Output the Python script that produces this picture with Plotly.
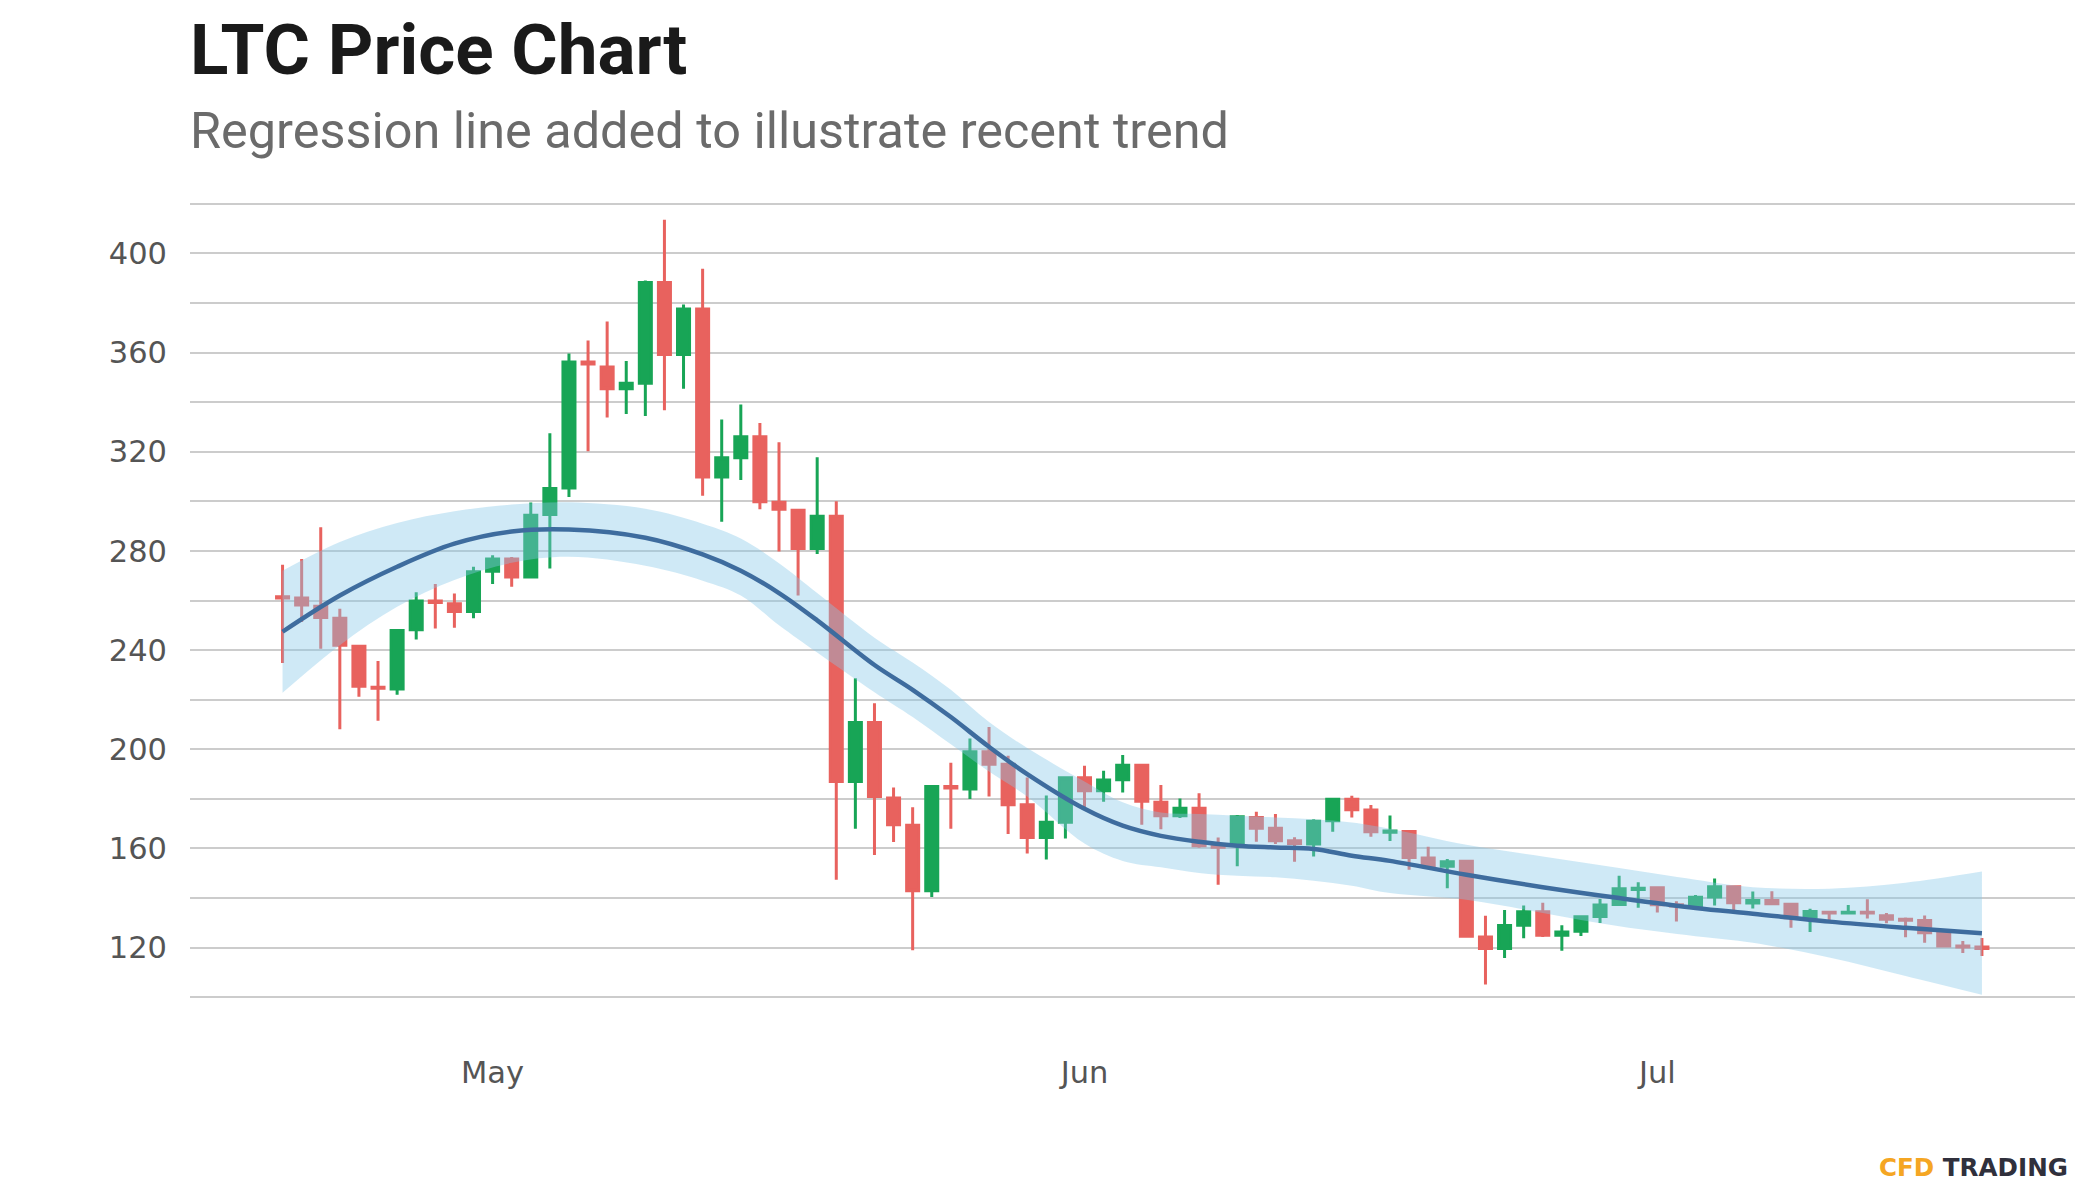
import pandas as pd
import plotly.graph_objects as go

# ---- Candle data (LTC daily, 2021-04-20 .. 2021-07-18) ----
dates = pd.date_range("2021-04-20", "2021-07-18", freq="D")

opens = [261.5, 261, 257.7, 252.8, 241.6, 225, 224.3, 248.2, 259.8, 258.7, 255.6,
         271.8, 276.7, 269.5, 294.7, 305.4, 356.2, 354.2, 345.4, 347.6, 388.2,
         359.2, 377.6, 309.8, 317.6, 326, 299.6, 296.4, 281, 294, 187,
         210.8, 180.4, 169.4, 143, 185, 184, 199, 194, 177.6, 164.4, 170.6,
         188.5, 183.3, 187.7, 193.6, 178.6, 173.2, 176.2, 161, 161.8, 172.5,
         168.2, 163.1, 161.8, 171.2, 179.9, 175.5, 166.5, 166.8, 156.2, 152.8,
         154.8, 124.3, 119.7, 129, 134.5, 125, 126.6, 132.6, 137.4, 143.5,
         144.2, 137.3, 137, 140.4, 144.6, 138, 139, 137.5, 132.3, 134.3,
         134, 134.3, 132.9, 131.5, 131, 125.8, 120.7, 120.3]
highs = [274.4, 276.7, 289.5, 256.7, 241.8, 235.6, 248.5, 263.3, 266.7, 262.8, 273.6,
         278.2, 277.5, 299.5, 327.4, 359.6, 364.8, 372.5, 356.6, 389, 413.5,
         379.4, 393.8, 333, 339, 331.6, 323.8, 296.6, 317.8, 300, 228.6,
         218.6, 184.6, 176.6, 185.4, 194.6, 204.4, 209, 197.4, 188.6, 181.4, 188.7,
         193.4, 191.3, 197.7, 193.9, 185.6, 180.2, 182.3, 164.4, 173.5, 174.8,
         173.9, 164.5, 171.8, 180.3, 181.3, 177.5, 173.3, 167.1, 160.7, 155.8,
         155.3, 132.9, 135.2, 137, 138.1, 129, 132.5, 139.6, 149, 146.4,
         144.4, 138.7, 141.2, 147.9, 145.1, 142.7, 142.8, 137.9, 135.7, 134.4,
         137.2, 139.5, 134, 132.2, 133, 125.9, 122.7, 123.9]
lows = [234.8, 251.3, 240.5, 208.1, 221.2, 211.5, 222, 244.3, 248.7, 249, 252.8,
        266.7, 265.5, 269, 272.9, 301.7, 320.2, 333.8, 335.2, 334.4, 336.7,
        345.4, 302.2, 291.8, 308.6, 296.8, 279.8, 262, 278.8, 147.4, 168,
        157.4, 162.6, 119, 140.4, 168, 180, 181, 165.8, 158, 155.6, 164,
        176.2, 178.8, 182.6, 169.6, 167.8, 172.3, 160.3, 145.4, 152.8, 162.7,
        161.8, 154.6, 156.8, 166.7, 172.5, 164.7, 163, 151.4, 152.5, 144,
        124.2, 105.1, 115.8, 123.8, 124.3, 118.8, 124.7, 129.9, 137.2, 136.1,
        134.2, 130.6, 136.8, 137, 135, 135.8, 137.2, 128, 126.3, 131,
        133.8, 131.8, 129.8, 124.2, 122, 120.5, 117.9, 116.6]
closes = [261, 258.2, 253.1, 242, 225.4, 224.6, 247.9, 259.8, 259.2, 255.6, 271.6,
          276.7, 269.5, 294.4, 305.2, 356.2, 355.4, 345.4, 347.6, 388.2, 359.2,
          377.6, 309.8, 317.6, 326, 299.8, 296.8, 281, 294, 187, 210.8,
          181, 169.6, 143, 185, 184.4, 199, 194, 177.6, 164.4, 170.6, 188.5,
          183.3, 187.6, 193.6, 179, 173.2, 176.2, 161.1, 160.5, 172.8, 168.2,
          163.1, 162, 171, 179.9, 175.6, 166.7, 167, 156.4, 152.8, 154.6,
          124.6, 119.7, 128.9, 134.5, 125, 126.3, 132.5, 137.2, 143.8, 144,
          137.3, 136.8, 140.3, 144.6, 138.1, 139, 137.7, 132.1, 134.6, 134,
          134.3, 134, 131.5, 131.1, 126, 120.7, 120.3, 119.7]

# ---- Regression (smoothed trend) line and its confidence band ----
trend_dates = ["2021-04-20", "2021-04-23", "2021-04-26", "2021-04-29", "2021-05-02",
               "2021-05-05", "2021-05-09", "2021-05-12", "2021-05-14", "2021-05-16",
               "2021-05-18", "2021-05-21", "2021-05-23", "2021-05-25", "2021-05-27",
               "2021-05-29", "2021-06-01", "2021-06-03", "2021-06-05", "2021-06-07",
               "2021-06-09", "2021-06-11", "2021-06-13", "2021-06-15", "2021-06-17",
               "2021-06-21", "2021-06-25", "2021-06-29", "2021-07-03", "2021-07-06",
               "2021-07-10", "2021-07-14", "2021-07-18"]
trend_mid = [247.4, 262, 273.6, 282.9, 287.8, 288.6, 285.3, 278.6, 272, 263,
             252, 234, 224, 213, 201, 190, 176, 169.2, 165.1, 162.7,
             161.1, 160.4, 159.8, 157.1, 155, 149.4, 144.4, 140, 136, 133.7,
             130.5, 128, 125.8]
trend_upper = [272, 283.6, 291.3, 296, 298.7, 299.6, 297, 291, 285, 275,
               263, 245, 235, 224, 211, 200.5, 187, 178.6, 174.5, 173.9,
               173.2, 172.5, 171.8, 170.5, 168, 161.5, 156.8, 152.1, 147.4, 144.4,
               143.8, 146.2, 150.7]
trend_lower = [222.8, 242, 257.5, 268.3, 275.2, 277.6, 274, 268, 262, 250,
               239, 223, 213, 202, 191, 181, 162, 155, 152.4, 150.1,
               149, 148.4, 147, 145, 142, 139.3, 134, 128.6, 124.6, 122,
               116, 108.6, 101]

y_ticks = [120, 160, 200, 240, 280, 320, 360, 400]
y_minor = [100, 120, 140, 160, 180, 200, 220, 240, 260, 280, 300, 320, 340, 360, 380, 400, 420]
x_tick_dates = ["2021-05-01", "2021-06-01", "2021-07-01"]
x_tick_text = ["May", "Jun", "Jul"]

GREEN = "#18a556"
RED = "#e8625e"

fig = go.Figure()

fig.add_trace(go.Candlestick(
    x=dates, open=opens, high=highs, low=lows, close=closes,
    increasing=dict(line=dict(color=GREEN, width=3), fillcolor=GREEN),
    decreasing=dict(line=dict(color=RED, width=3), fillcolor=RED),
    whiskerwidth=0, hoverinfo="skip", showlegend=False,
))

fig.add_trace(go.Scatter(
    x=trend_dates, y=trend_upper, mode="lines",
    line=dict(width=0, shape="spline", smoothing=1.0),
    hoverinfo="skip", showlegend=False,
))
fig.add_trace(go.Scatter(
    x=trend_dates, y=trend_lower, mode="lines",
    line=dict(width=0, shape="spline", smoothing=1.0),
    fill="tonexty", fillcolor="rgba(135,200,232,0.4)",
    hoverinfo="skip", showlegend=False,
))
fig.add_trace(go.Scatter(
    x=trend_dates, y=trend_mid, mode="lines",
    line=dict(width=4.5, color="#3e6c9e", shape="spline", smoothing=1.0),
    hoverinfo="skip", showlegend=False,
))

TICK_FONT = dict(family="DejaVu Sans, Liberation Sans, sans-serif", size=30.5, color="#555555")

fig.update_layout(
    width=2092, height=1192,
    paper_bgcolor="white", plot_bgcolor="white",
    margin=dict(l=182, r=25, t=194, b=201),
    boxgap=0.1,
    showlegend=False,
    xaxis=dict(
        type="date",
        range=["2021-04-15 03:40", "2021-07-22 21:00"],
        rangeslider=dict(visible=False),
        showgrid=False, zeroline=False, showline=False,
        tickvals=x_tick_dates,
        ticktext=x_tick_text,
        tickfont=TICK_FONT,
        ticks="",
        ticklabelstandoff=52,
    ),
    yaxis=dict(
        range=[99.3, 420.7],
        tickvals=y_ticks,
        ticktext=[str(v) for v in y_ticks],
        tickfont=TICK_FONT,
        showgrid=True, gridcolor="#cccccc", gridwidth=2,
        minor=dict(tickvals=y_minor, showgrid=True,
                   gridcolor="#cccccc", gridwidth=2),
        zeroline=False, showline=False, ticks="",
        ticklabelstandoff=22,
    ),
    annotations=[
        dict(text="<b>LTC Price Chart</b>", xref="paper", yref="paper",
             x=-0.001, y=1.1913, xanchor="left", yanchor="middle", showarrow=False,
             font=dict(family="Roboto, Liberation Sans, sans-serif",
                       size=71, color="#1a1a1a")),
        dict(text="Regression line added to illustrate recent trend", xref="paper", yref="paper",
             x=-0.001, y=1.0903, xanchor="left", yanchor="middle", showarrow=False,
             font=dict(family="Roboto, Liberation Sans, sans-serif",
                       size=50.4, color="#6b6b6b")),
        dict(text="<b><span style='color:#f5a623'>CFD</span> TRADING</b>",
             xref="paper", yref="paper", x=0.9975, y=-0.212,
             xanchor="right", yanchor="middle", showarrow=False,
             font=dict(family="DejaVu Sans, sans-serif", size=24.6, color="#30303c")),
    ],
)

fig.write_html("out.html")
